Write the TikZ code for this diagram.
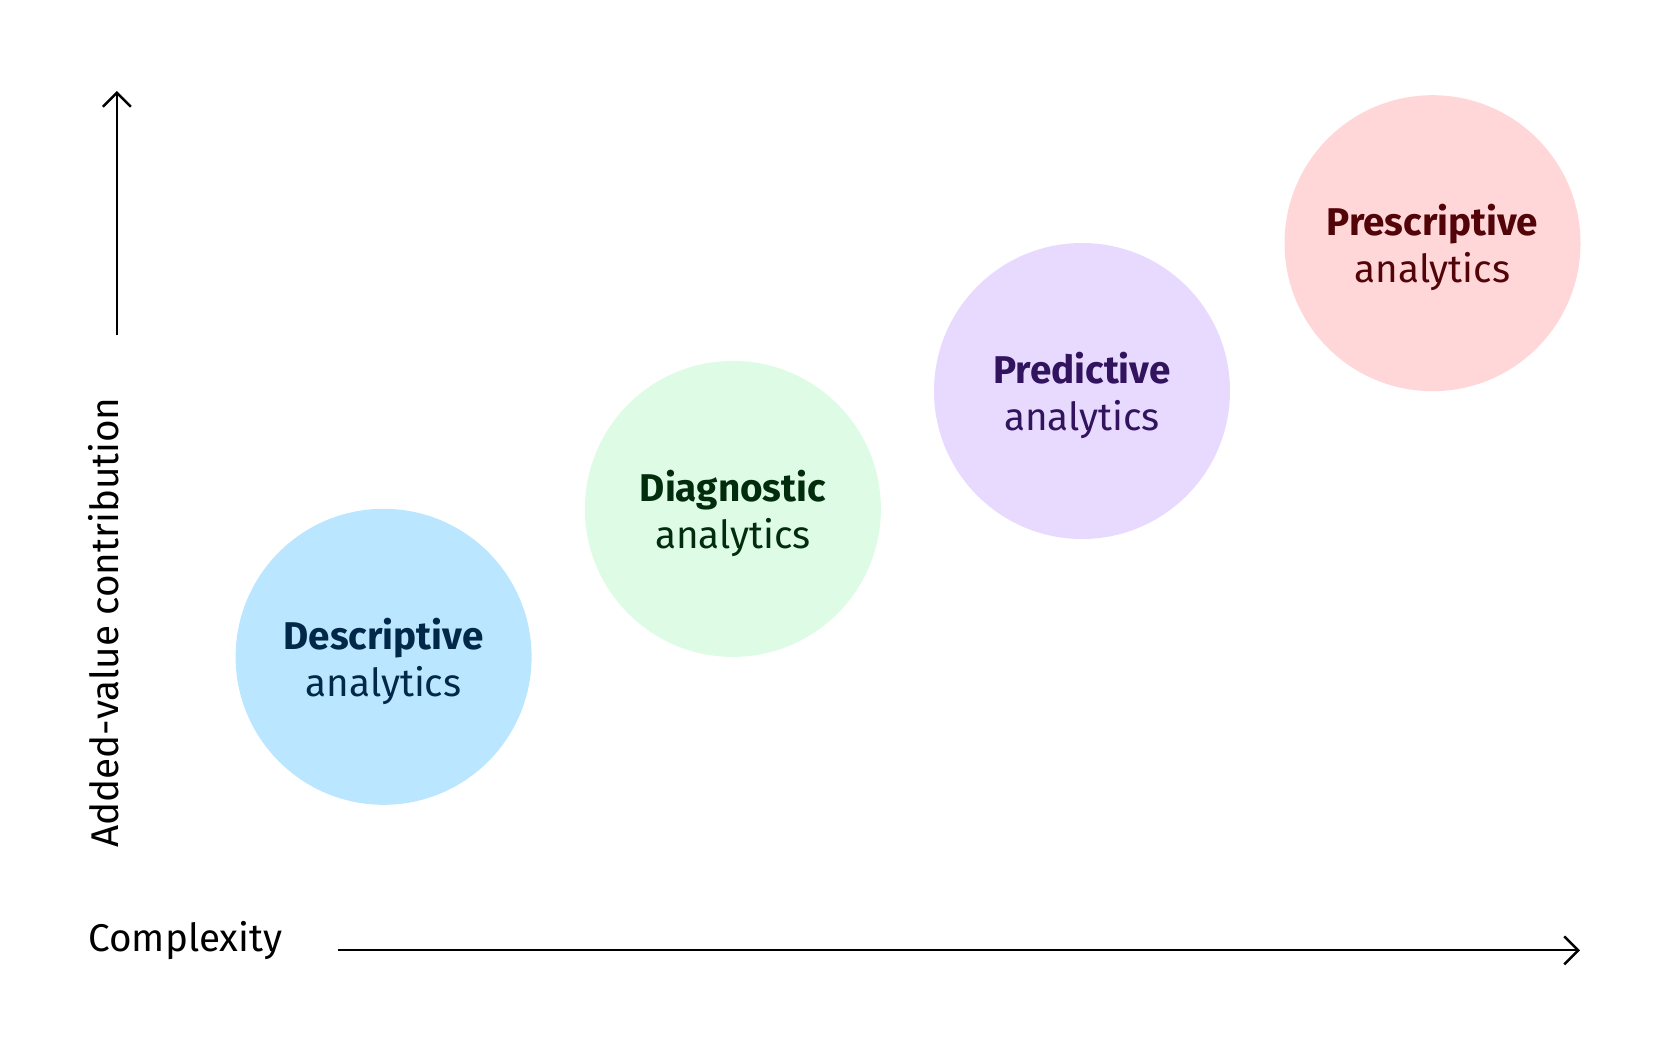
\documentclass[tikz,border=0pt]{standalone}
\usepackage{fontspec}
\setmainfont{Fira Sans}
\usetikzlibrary{arrows.meta}

\definecolor{cyanfill}{HTML}{BAE6FF}
\definecolor{cyantext}{HTML}{012749}
\definecolor{greenfill}{HTML}{DEFBE6}
\definecolor{greentext}{HTML}{022D0D}
\definecolor{purplefill}{HTML}{E8DAFF}
\definecolor{purpletext}{HTML}{31135E}
\definecolor{redfill}{HTML}{FFD7D9}
\definecolor{redtext}{HTML}{520408}

\tikzset{
	stage/.style={circle, minimum size=2.96cm, inner sep=0pt,
		font=\fontsize{11}{13.4}\selectfont},
	axis/.style={line width=0.6pt, -{Straight Barb[length=1.4mm, width=2.8mm, line width=0.7pt]}},
	axislabel/.style={font=\fontsize{11}{13}\selectfont}
}

\begin{document}
\begin{tikzpicture}
	\useasboundingbox (0,0) rectangle (16.8,10.38);

	\foreach \name/\x/\y/\fillc/\textc/\word in {
		desc/3.836/3.812/cyanfill/cyantext/Descriptive,
		diag/7.329/5.291/greenfill/greentext/Diagnostic,
		pred/10.820/6.470/purplefill/purpletext/Predictive,
		pres/14.325/7.948/redfill/redtext/Prescriptive} {
		\node[stage, fill=\fillc, text=\textc] (\name) at (\x,\y)
			{\raisebox{-0.65mm}[\height][\depth]{\begin{tabular}{@{}c@{}}\textbf{\word}\\analytics\end{tabular}}};
	}

	\coordinate (ybot) at (1.168,7.03);
	\coordinate (ytop) at (1.168,9.47);
	\coordinate (xleft) at (3.375,0.876);
	\coordinate (xright) at (15.80,0.876);
	\draw[axis] (ybot) -- (ytop);
	\draw[axis] (xleft) -- (xright);

	\node[axislabel, rotate=90] (yname) at (1.04,4.155) {Added-value contribution};
	\node[axislabel, anchor=west] (xname) at (0.76,0.97) {Complexity};
\end{tikzpicture}
\end{document}
